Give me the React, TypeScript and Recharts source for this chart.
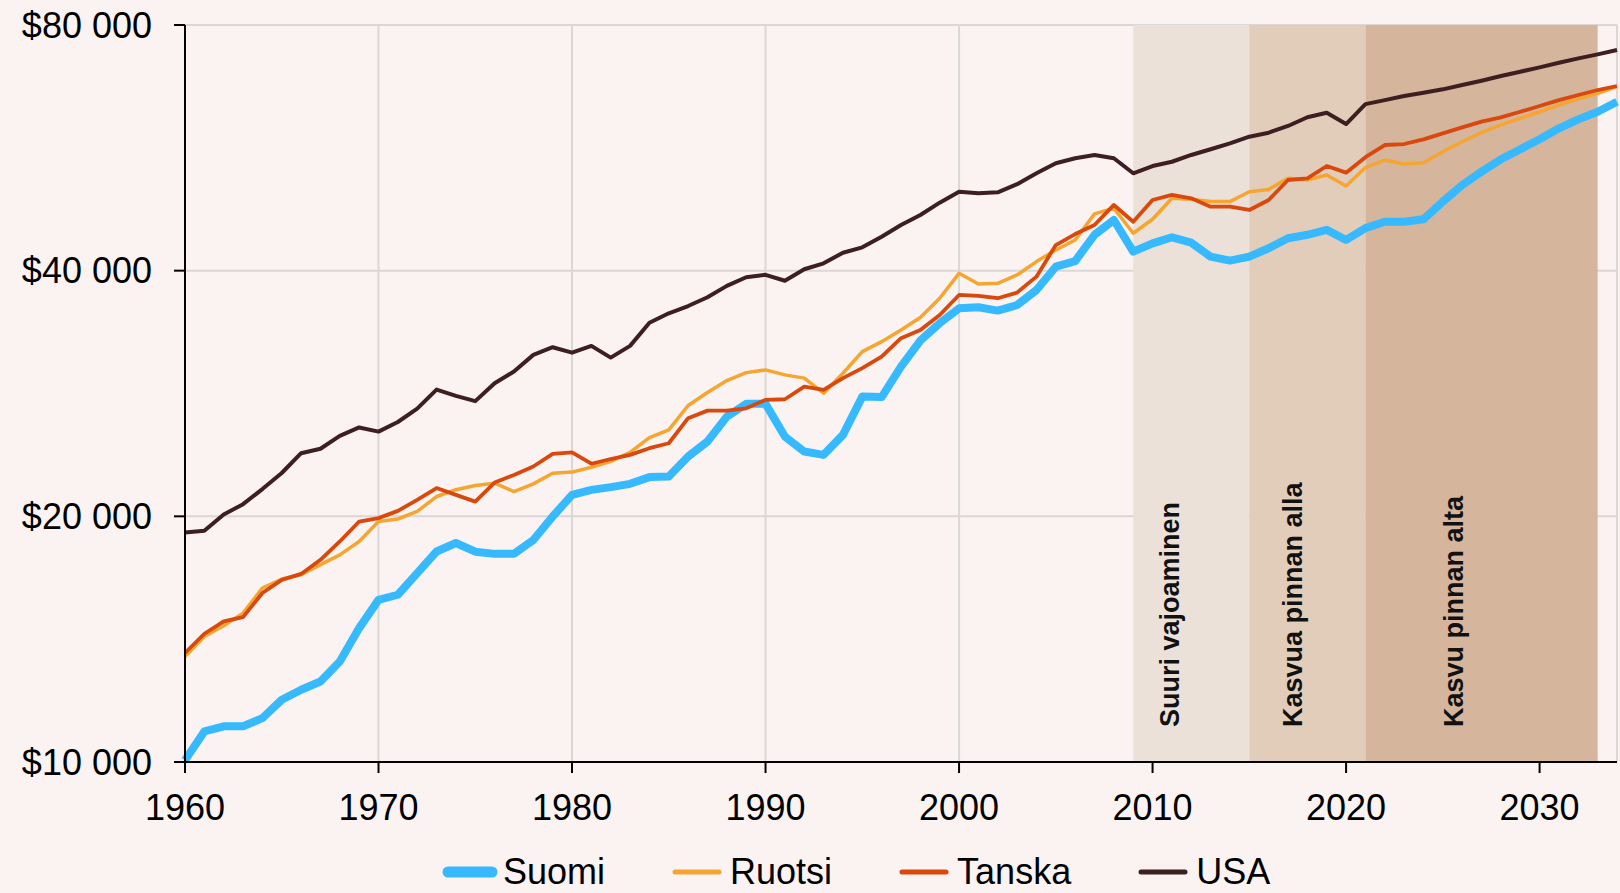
import React from 'react';
import { LineChart, Line, XAxis, YAxis, CartesianGrid, ReferenceArea, Legend } from 'recharts';

const YEARS = [
  1960, 1961, 1962, 1963, 1964, 1965, 1966, 1967, 1968, 1969,
  1970, 1971, 1972, 1973, 1974, 1975, 1976, 1977, 1978, 1979,
  1980, 1981, 1982, 1983, 1984, 1985, 1986, 1987, 1988, 1989,
  1990, 1991, 1992, 1993, 1994, 1995, 1996, 1997, 1998, 1999,
  2000, 2001, 2002, 2003, 2004, 2005, 2006, 2007, 2008, 2009,
  2010, 2011, 2012, 2013, 2014, 2015, 2016, 2017, 2018, 2019,
  2020, 2021, 2022, 2023, 2024, 2025, 2026, 2027, 2028, 2029,
  2030, 2031, 2032, 2033, 2034,
];

const SUOMI = [
  10050, 10900, 11060, 11060, 11320, 11920, 12260, 12550, 13280, 14590,
  15800, 16030, 17040, 18110, 18550, 18100, 17990, 17990, 18710, 19990,
  21250, 21550, 21720, 21920, 22340, 22380, 23680, 24700, 26500, 27470,
  27470, 25050, 24010, 23790, 25170, 28040, 28000, 30510, 32840, 34490,
  35970, 36080, 35740, 36310, 37880, 40450, 41100, 44260, 46150, 42200,
  43200, 43950, 43290, 41610, 41150, 41610, 42610, 43830, 44260, 44880,
  43620, 45100, 45930, 45930, 46240, 48600, 50940, 52890, 54770, 56340,
  57960, 59770, 61300, 62630, 64420,
];

const RUOTSI = [
  13470, 14250, 14690, 15220, 16340, 16760, 16960, 17450, 17940, 18630,
  19710, 19850, 20280, 21150, 21560, 21820, 21960, 21450, 21920, 22590,
  22660, 22970, 23350, 23950, 24980, 25530, 27340, 28360, 29340, 30000,
  30230, 29810, 29540, 28310, 29950, 31830, 32740, 33840, 35040, 37000,
  39700, 38530, 38600, 39520, 41040, 42410, 43620, 46950, 47710, 44450,
  46240, 49060, 48930, 48610, 48610, 49980, 50310, 51910, 51660, 52390,
  50800, 53500, 54650, 54050, 54250, 55960, 57550, 59040, 60340, 61480,
  62630, 63830, 64970, 65970, 67220,
];

const TANSKA = [
  13600, 14360, 14870, 15050, 16110, 16720, 17000, 17690, 18630, 19710,
  19900, 20310, 20950, 21660, 21250, 20850, 22000, 22480, 23020, 23860,
  23950, 23200, 23510, 23790, 24240, 24580, 26380, 26950, 26950, 27130,
  27780, 27830, 28840, 28580, 29540, 30380, 31390, 33060, 33840, 35300,
  37350, 37250, 37010, 37600, 39330, 43000, 44350, 45500, 48150, 45920,
  48830, 49530, 49060, 47910, 47910, 47470, 48830, 51660, 51910, 53740,
  52740, 55100, 57020, 57180, 57940, 58930, 59930, 60900, 61640, 62630,
  63650, 64730, 65660, 66590, 67350,
];

const USA = [
  19110, 19200, 20100, 20700, 21600, 22600, 23900, 24200, 25100, 25700,
  25400, 26100, 27100, 28600, 28100, 27680, 29120, 30090, 31540, 32230,
  31740, 32350, 31300, 32350, 34540, 35470, 36200, 37110, 38320, 39260,
  39530, 38880, 40160, 40840, 42080, 42720, 44020, 45500, 46800, 48460,
  49980, 49750, 49900, 51050, 52650, 54160, 54930, 55440, 54930, 52650,
  53740, 54390, 55440, 56340, 57290, 58370, 59040, 60170, 61660, 62460,
  60500, 64000, 64720, 65470, 66080, 66720, 67540, 68360, 69270, 70120,
  70990, 71930, 72820, 73630, 74540,
];

const X_TICKS = [1960, 1970, 1980, 1990, 2000, 2010, 2020, 2030];
const Y_TICKS = [10000, 20000, 40000, 80000];
const Y_TICK_LABELS = ['$10 000', '$20 000', '$40 000', '$80 000'];

const PERIOD_NAMES = ['Suuri vajoaminen', 'Kasvua pinnan alla', 'Kasvu pinnan alta'];
const PERIOD_STARTS = [2009, 2015, 2021];
const PERIOD_ENDS = [2015, 2021, 2033];

const SERIES_KEYS = ['suomi', 'ruotsi', 'tanska', 'usa'];
const SERIES_NAMES = ['Suomi', 'Ruotsi', 'Tanska', 'USA'];

// styles (kept apart from the data)
const SERIES_COLORS = ['#36B9FE', '#F6A531', '#D9480D', '#3D1F21'];
const SERIES_WIDTHS = [8, 3.5, 3.8, 4];
const LEGEND_ICON_WIDTHS = [11, 5, 5, 5];
const PERIOD_COLORS = ['#EBE1D8', '#E2CDBB', '#D5B59C'];
const PERIOD_LABEL_SHIFT = [46, 53, 98];
const FONT = '"Liberation Sans", Arial, sans-serif';
const BG = '#FAF3F1';

const data = YEARS.map((year, i) => ({
  year,
  suomi: SUOMI[i],
  ruotsi: RUOTSI[i],
  tanska: TANSKA[i],
  usa: USA[i],
}));

const BandLabel = (props: any) => {
  const { viewBox, caption, shiftX } = props;
  if (!viewBox) return null;
  const x = viewBox.x + shiftX;
  const y = viewBox.y + viewBox.height - 35;
  return (
    <text
      x={x}
      y={y}
      transform={`rotate(-90 ${x} ${y})`}
      fontSize={27}
      fontWeight="bold"
      fontFamily={FONT}
      fill="#111"
      textAnchor="start"
    >
      {caption}
    </text>
  );
};

const LegendContent = () => (
  <div
    style={{
      display: 'flex',
      alignItems: 'center',
      height: 36,
      paddingLeft: 442,
      fontFamily: FONT,
      fontSize: 36,
      lineHeight: '36px',
      color: '#000',
      whiteSpace: 'nowrap',
    }}
  >
    {SERIES_NAMES.map((name, i) => (
      <div key={name} style={{ display: 'flex', alignItems: 'center', marginRight: 64 }}>
        <svg width={56} height={14} style={{ display: 'block' }}>
          <line
            x1={6}
            x2={50}
            y1={7}
            y2={7}
            stroke={SERIES_COLORS[i]}
            strokeWidth={LEGEND_ICON_WIDTHS[i]}
            strokeLinecap="round"
          />
        </svg>
        <span style={{ marginLeft: 5 }}>{name}</span>
      </div>
    ))}
  </div>
);

export default function App() {
  return (
    <div
      style={{
        position: 'fixed',
        left: 0,
        top: 0,
        width: 1620,
        height: 893,
        overflow: 'hidden',
        background: BG,
      }}
    >
      <LineChart
        width={1620}
        height={893}
        data={data}
        margin={{ top: 25, right: 3, bottom: 0, left: 0 }}
      >
        <CartesianGrid stroke="#DBD7D7" strokeWidth={2} />
        {PERIOD_NAMES.map((name, i) => (
          <ReferenceArea
            key={name}
            x1={PERIOD_STARTS[i]}
            x2={PERIOD_ENDS[i]}
            y1={10000}
            y2={80000}
            fill={PERIOD_COLORS[i]}
            fillOpacity={1}
            stroke="none"
            ifOverflow="hidden"
            label={<BandLabel caption={name} shiftX={PERIOD_LABEL_SHIFT[i]} />}
          />
        ))}
        <XAxis
          dataKey="year"
          type="number"
          domain={[1960, 2034]}
          ticks={X_TICKS}
          interval={0}
          height={95}
          tickSize={11}
          tickMargin={21}
          axisLine={{ stroke: '#000', strokeWidth: 2 }}
          tickLine={{ stroke: '#000', strokeWidth: 2 }}
          tick={{ fill: '#000', fontSize: 36, fontFamily: FONT }}
        />
        <YAxis
          type="number"
          scale="log"
          domain={[10000, 80000]}
          allowDataOverflow
          ticks={Y_TICKS}
          interval={0}
          width={185}
          tickSize={11}
          tickMargin={22}
          tickFormatter={(v: number) => Y_TICK_LABELS[Y_TICKS.indexOf(v)] ?? String(v)}
          axisLine={{ stroke: '#000', strokeWidth: 2 }}
          tickLine={{ stroke: '#000', strokeWidth: 2 }}
          tick={{ fill: '#000', fontSize: 36, fontFamily: FONT }}
        />
        {SERIES_KEYS.map((key, i) => (
          <Line
            key={key}
            dataKey={key}
            name={SERIES_NAMES[i]}
            type="linear"
            stroke={SERIES_COLORS[i]}
            strokeWidth={SERIES_WIDTHS[i]}
            strokeLinejoin="round"
            dot={false}
            activeDot={false}
            isAnimationActive={false}
          />
        ))}
        <Legend
          verticalAlign="bottom"
          align="left"
          content={<LegendContent />}
          wrapperStyle={{ left: 0, width: 1620, bottom: 3 }}
        />
      </LineChart>
    </div>
  );
}
